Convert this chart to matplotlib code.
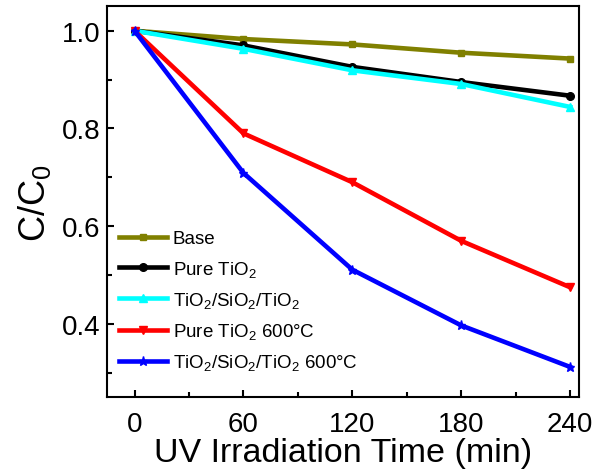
import matplotlib
matplotlib.use("Agg")
import matplotlib.pyplot as plt
from matplotlib.ticker import MultipleLocator

plt.rcParams['font.family'] = ['Liberation Sans', 'DejaVu Sans']
plt.rcParams['mathtext.fontset'] = 'custom'
plt.rcParams['mathtext.rm'] = 'Liberation Sans'
plt.rcParams['mathtext.it'] = 'Liberation Sans:italic'
plt.rcParams['mathtext.bf'] = 'Liberation Sans:bold'

time = [0, 60, 120, 180, 240]
base = [1.0, 0.983, 0.972, 0.955, 0.943]
pure_tio2 = [1.0, 0.970, 0.926, 0.895, 0.867]
tsi = [1.0, 0.963, 0.919, 0.891, 0.844]
pure_600 = [1.0, 0.790, 0.690, 0.570, 0.475]
tsi_600 = [1.0, 0.709, 0.511, 0.397, 0.312]

labels = ['Base', 'Pure TiO$_2$', 'TiO$_2$/SiO$_2$/TiO$_2$',
          'Pure TiO$_2$ 600°C', 'TiO$_2$/SiO$_2$/TiO$_2$ 600°C']
series = [base, pure_tio2, tsi, pure_600, tsi_600]
colors = ['#808000', '#000000', '#00FFFF', '#FF0000', '#0000FF']
markers = ['s', 'o', '^', 'v', '*']
msizes = [5, 5.5, 6, 6, 6.5]

fig = plt.figure(figsize=(5.96, 4.77), dpi=100)
ax = fig.add_axes([0.180, 0.165, 0.792, 0.8197])

for y, lab, c, m, ms in zip(series, labels, colors, markers, msizes):
    ax.plot(time, y, color=c, marker=m, markersize=ms, linewidth=3.3,
            label=lab, markeredgecolor=c)

ax.set_xlim(-15, 245)
ax.set_ylim(0.25, 1.05)
ax.xaxis.set_major_locator(MultipleLocator(60))
ax.xaxis.set_minor_locator(MultipleLocator(30))
ax.yaxis.set_major_locator(MultipleLocator(0.2))
ax.yaxis.set_minor_locator(MultipleLocator(0.1))
ax.tick_params(which='both', direction='in', width=1.5, labelsize=20)
ax.tick_params(which='major', length=5)
ax.tick_params(which='minor', length=3.5)
ax.tick_params(axis='x', pad=10)
ax.tick_params(axis='y', pad=5)
for s in ax.spines.values():
    s.set_linewidth(1.5)

ax.set_xlabel('UV Irradiation Time (min)', fontsize=24.5, labelpad=0)
ax.set_ylabel('C/C$_0$', fontsize=26, labelpad=6)

leg = ax.legend(loc='lower left', bbox_to_anchor=(0.0, 0.035), frameon=False,
                fontsize=13.5, handlelength=2.6, handletextpad=0.3,
                labelspacing=0.6, borderaxespad=0.2)

fig.savefig('out.png', dpi=100)
